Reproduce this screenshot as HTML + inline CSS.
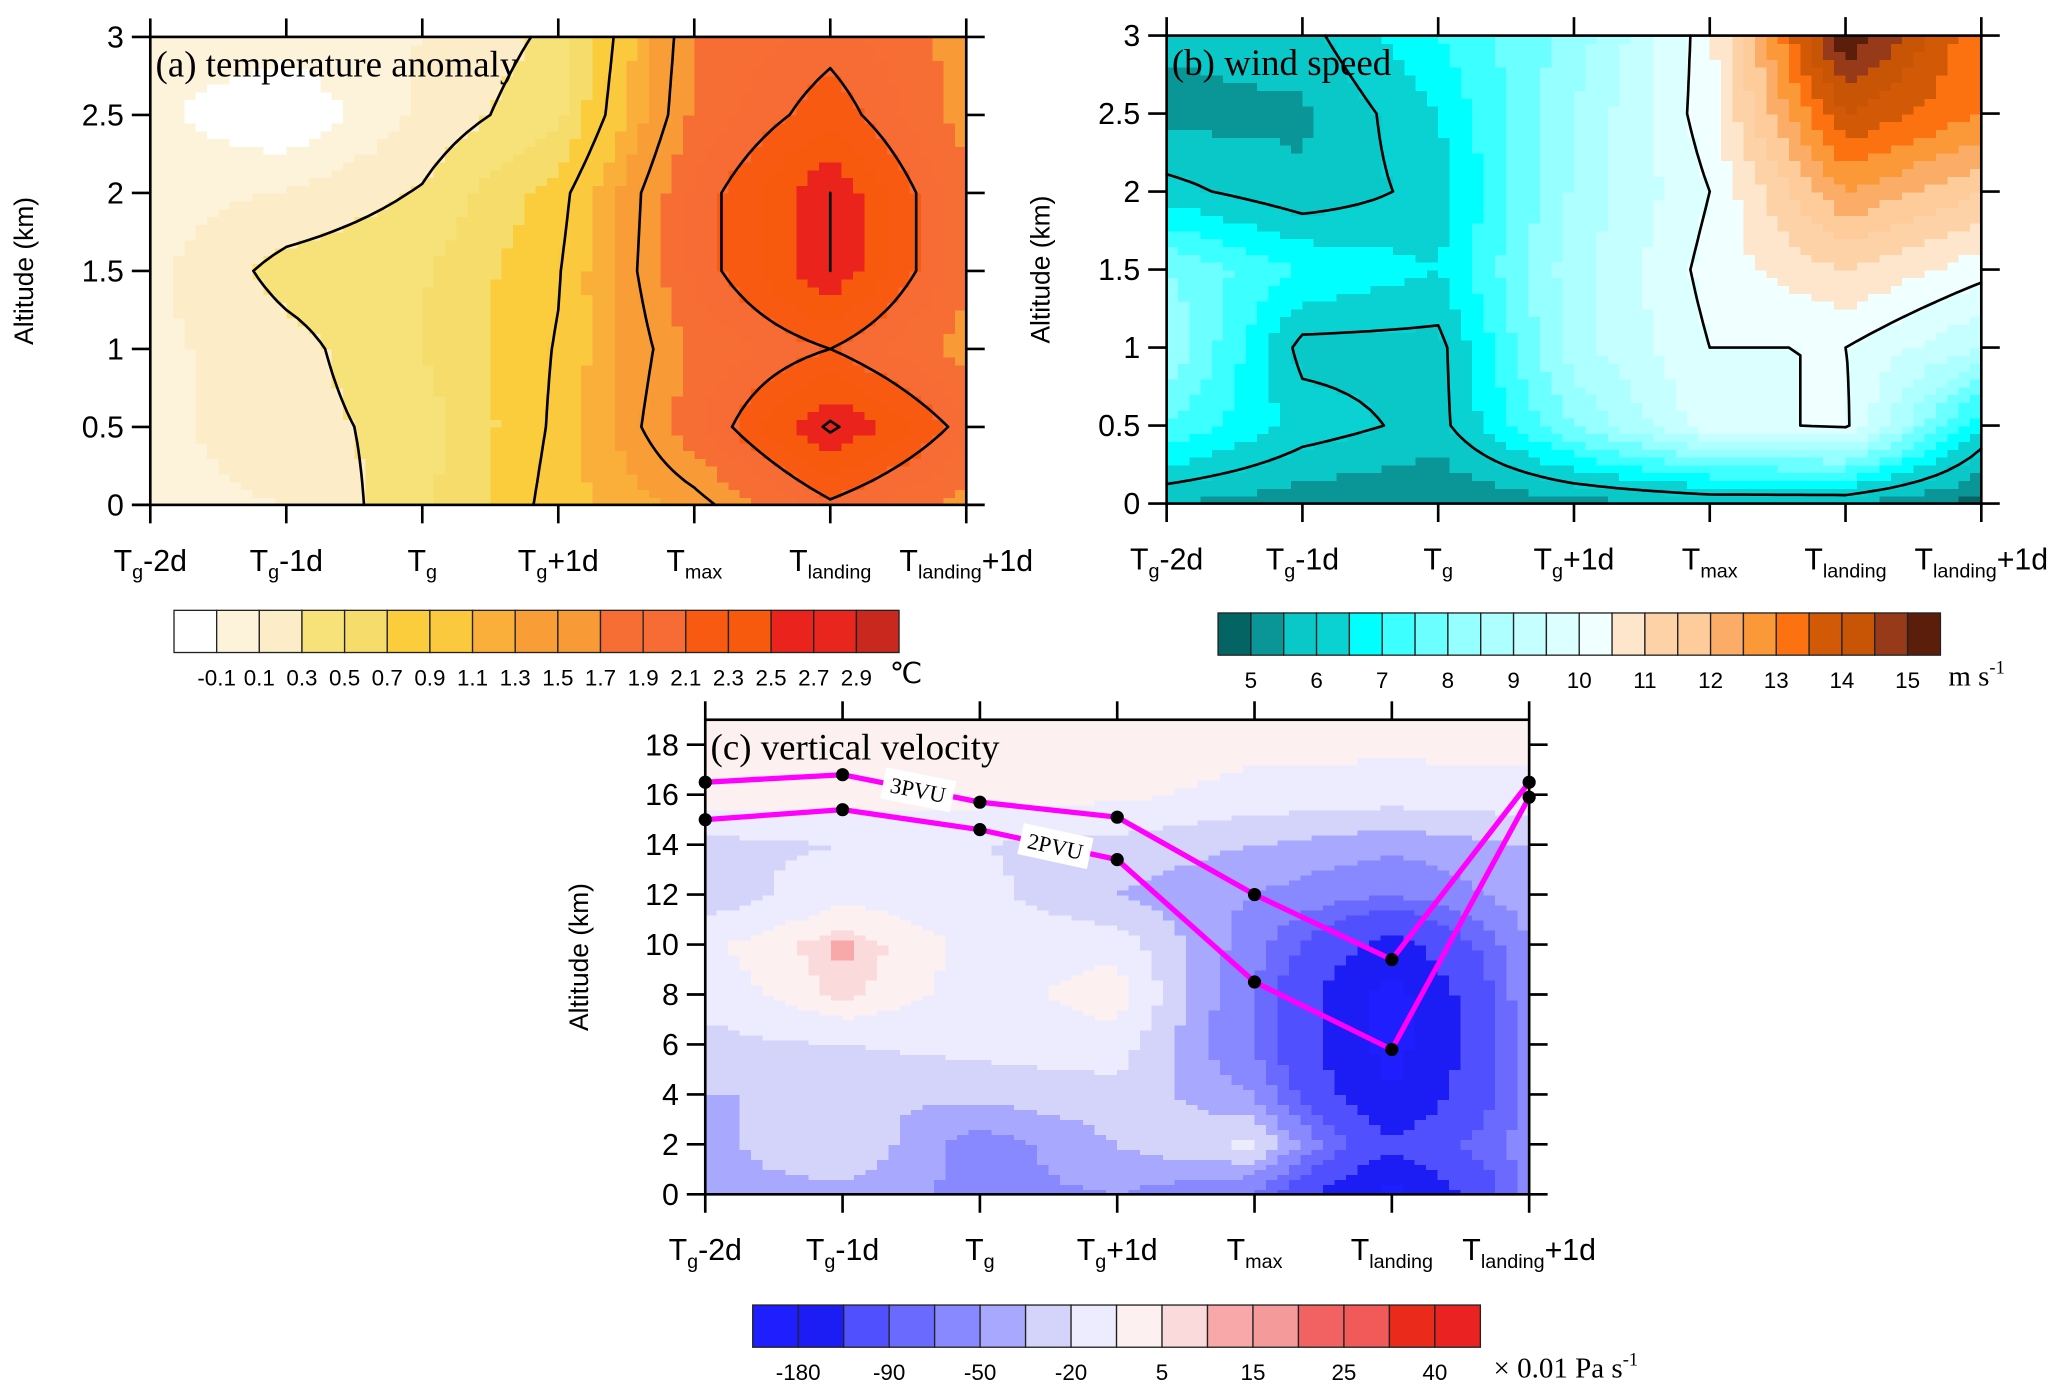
<!DOCTYPE html>
<html><head><meta charset="utf-8"><title>Composite cross sections</title>
<style>
html,body{margin:0;padding:0;background:#fff;}
svg{display:block;}
</style></head>
<body>
<svg id="fig" xmlns="http://www.w3.org/2000/svg" width="2067" height="1396" viewBox="0 0 1568 1059">
<rect x="0" y="0" width="1568" height="1059" fill="#fff"/>
</svg>
<script>
// ---------- data ----------
const xCats = ["Tg-2d","Tg-1d","Tg","Tg+1d","Tmax","Tlanding","Tlanding+1d"];
const xMain = ["T","T","T","T","T","T","T"];
const xSub = ["g","g","g","g","max","landing","landing"];
const xSuffix = ["-2d","-1d","","+1d","","","+1d"];

const altA = [0,0.5,1,1.5,2,2.5,3];
const tempA = [
 [0.05,0.10,0.45,1.00,1.40,2.05,1.60],
 [0.05,0.20,0.40,0.95,1.85,2.75,2.00],
 [0.05,0.22,0.50,0.92,1.75,2.10,1.60],
 [0.05,0.38,0.48,0.88,1.95,2.70,1.75],
 [0.00,0.12,0.32,0.80,1.95,2.70,1.75],
 [-0.05,-0.30,0.15,0.45,1.75,2.25,1.60],
 [0.02,0.00,0.10,0.35,1.70,2.00,1.60]
];
const levelsA = [-0.1,0.1,0.3,0.5,0.7,0.9,1.1,1.3,1.5,1.7,1.9,2.1,2.3,2.5,2.7,2.9];
const colorsA = ["#ffffff","#fdf3da","#fcedc8","#f7e27a","#f6dc6a","#fbcd3c","#fbc93e","#f9af3a","#f99d36","#f89a36","#f76e34","#f76c34","#f75a10","#f75a0c","#ea241c","#e9261e","#c8281e"];
const contA = [0.3,0.9,1.5,2.1,2.7];

const altB = [0,0.5,1,1.5,2,2.5,3];
const windB = [
 [5.5,5.2,5.0,5.3,5.5,5.5,4.8],
 [7.5,6.3,5.8,8.0,9.8,10.1,6.5],
 [8.5,5.8,5.8,8.8,10.0,10.0,9.0],
 [8.0,7.0,6.5,8.8,10.2,11.0,10.2],
 [6.2,5.6,6.2,8.6,10.0,12.5,11.5],
 [5.3,5.4,6.5,8.5,10.3,14.0,13.0],
 [5.6,5.8,7.0,8.2,10.3,15.5,13.0]
];
const levelsB = [5,5.5,6,6.5,7,7.5,8,8.5,9,9.5,10,10.5,11,11.5,12,12.5,13,13.5,14,14.5,15];
const colorsB = ["#046464","#0a9696","#0ac8c8","#0ad2d2","#00ffff","#3cffff","#6cffff","#96ffff","#aeffff","#c6ffff","#dcffff","#f0ffff","#fde6cc","#fdd2a6","#fdcc9a","#fbac66","#fb9838","#fc7210","#d25a06","#c85406","#963a1a","#5a1e0a"];
const contB = [6,10];

const altC = [0,2,4,6,8,10,12,14,16,19];
const omegaC = [
 [-40,-40,-55,-50,-70,-200,-60],
 [-40,-20,-60,-35,-15,-120,-60],
 [-35,-35,-30,-25,-50,-180,-60],
 [-25,-20,-15,-12,-70,-200,-60],
 [-15,8,-12,3,-70,-200,-50],
 [-8,12,-10,-10,-60,-150,-50],
 [-30,-8,-15,-35,-50,-70,-40],
 [-25,-20,-20,-25,-35,-45,-35],
 [2,0,0,-2,-10,-12,-10],
 [3,3,3,3,3,3,3]
];
const levelsC = [-180,-130,-90,-70,-50,-35,-20,-5,5,10,15,20,25,30,40];
const colorsC = ["#1e1eff","#1c1cf4","#5050ff","#6a6aff","#8888ff","#a8a8ff","#d4d4fb","#ececfe","#fdf0f0","#fadada","#f8a8a8","#f59a9a","#f26262","#f25a5a","#ea2a1a","#ea2222"];
const cbLabelsA = ["-0.1","0.1","0.3","0.5","0.7","0.9","1.1","1.3","1.5","1.7","1.9","2.1","2.3","2.5","2.7","2.9"];
const cbLabelsB = ["5","6","7","8","9","10","11","12","13","14","15"];
const cbLabelsC = ["-180","-90","-50","-20","5","15","25","40"];
const pv3 = [16.5,16.8,15.7,15.1,12.0,9.4,16.5];
const pv2 = [15.0,15.4,14.6,13.4,8.5,5.8,15.9];

// ---------- helpers ----------
const NS = "http://www.w3.org/2000/svg";
const svg = document.getElementById("fig");
function el(tag, attrs, parent){
  const e = document.createElementNS(NS, tag);
  for (const k in attrs) e.setAttribute(k, attrs[k]);
  (parent||svg).appendChild(e);
  return e;
}
function colorFor(v, levels, colors){
  let i=0; while(i<levels.length && v>=levels[i]) i++;
  return colors[i];
}

function drawPanel(p){
  const g = el("g",{});
  
  
  const nc = xCats.length, nr = p.alt.length;
  const xs = i => p.x0 + (p.x1-p.x0)*i/(nc-1);
  const ys = a => p.yb - (p.yb-p.yt)*(a-p.ymin)/(p.ymax-p.ymin);
  const NX=12, NY=10;
  const FX = (nc-1)*NX+1, FY=(nr-1)*NY+1;
  const val=[], px=[], py=[];
  for(let j=0;j<FY;j++){
    const r=Math.min(Math.floor(j/NY),nr-2), t=(j-r*NY)/NY;
    py[j]=ys(p.alt[r]+(p.alt[r+1]-p.alt[r])*t);
    val[j]=[];
    for(let i=0;i<FX;i++){
      const c=Math.min(Math.floor(i/NX),nc-2), s=(i-c*NX)/NX;
      if(j===0) px[i]=xs(c+s);
      const v00=p.data[r][c],v10=p.data[r][c+1],v01=p.data[r+1][c],v11=p.data[r+1][c+1];
      val[j][i]=v00*(1-s)*(1-t)+v10*s*(1-t)+v01*(1-s)*t+v11*s*t;
    }
  }
  const fill = el("g",{"shape-rendering":"crispEdges"},g);
  
  
  for(let j=0;j<FY-1;j++){
    for(let i=0;i<FX-1;i++){
      const v=(val[j][i]+val[j][i+1]+val[j+1][i]+val[j+1][i+1])/4;
      const col=colorFor(v,p.levels,p.colors);
      const yTop=Math.min(py[j],py[j+1]), h=Math.abs(py[j]-py[j+1]);
      const r=el("rect",{x:px[i].toFixed(2),y:yTop.toFixed(2),width:(px[i+1]-px[i]+0.6).toFixed(2),height:(h+0.6).toFixed(2),fill:col},fill);
      
      
    }
  }
  if(p.lines){
    const lg = el("g",{stroke:"#000","stroke-width":2,fill:"none","stroke-linecap":"round"},g);
    
    
    let d="";
    for(const L of p.lines){
      for(let j=0;j<FY-1;j++)for(let i=0;i<FX-1;i++){
        const c=[[px[i],py[j],val[j][i]],[px[i+1],py[j],val[j][i+1]],[px[i+1],py[j+1],val[j+1][i+1]],[px[i],py[j+1],val[j+1][i]]];
        const pts=[];
        for(let k=0;k<4;k++){
          const a=c[k],b=c[(k+1)%4];
          if((a[2]<L)!==(b[2]<L)){
            const f=(L-a[2])/(b[2]-a[2]);
            pts.push([a[0]+(b[0]-a[0])*f,a[1]+(b[1]-a[1])*f]);
          }
        }
        for(let k=0;k+1<pts.length;k+=2)
          d+="M"+pts[k][0].toFixed(1)+" "+pts[k][1].toFixed(1)+"L"+pts[k+1][0].toFixed(1)+" "+pts[k+1][1].toFixed(1);
      }
    }
    const path=el("path",{d:d},lg);
    
    
  }
  const fr=el("rect",{x:p.x0,y:p.yt,width:p.x1-p.x0,height:p.yb-p.yt,fill:"none",stroke:"#000","stroke-width":2},g);
  
  
  const ax = el("g",{stroke:"#000","stroke-width":2},g);
  
  
  for(let i=0;i<nc;i++){
    el("line",{x1:xs(i),x2:xs(i),y1:p.yb,y2:p.yb+14},ax);
    el("line",{x1:xs(i),x2:xs(i),y1:p.yt,y2:p.yt-14},ax);
  }
  const tl = el("g",{"font-family":"Liberation Sans, sans-serif","font-size":23,fill:"#000"},g);
  
  
  for(const tv of p.yticks){
    const y=ys(tv);
    el("line",{x1:p.x0-14,x2:p.x0,y1:y,y2:y,stroke:"#000","stroke-width":2},ax);
    el("line",{x1:p.x1,x2:p.x1+14,y1:y,y2:y,stroke:"#000","stroke-width":2},ax);
    const t=el("text",{x:p.x0-20,y:y+8,"text-anchor":"end"},tl);
    t.textContent=String(tv);
    
    
  }
  for(let i=0;i<nc;i++){
    const t=el("text",{x:xs(i),y:p.yb+50,"text-anchor":"middle"},tl);
    
    
    const a=el("tspan",{},t); a.textContent=xMain[i];
    const b=el("tspan",{dy:6,"font-size":15},t); b.textContent=xSub[i];
    if(xSuffix[i]){const c=el("tspan",{dy:-6},t); c.textContent=xSuffix[i];}
  }
  const yt=el("text",{x:0,y:0,"font-family":"Liberation Sans, sans-serif","font-size":20,"text-anchor":"middle",transform:`translate(${p.x0-89},${(p.yt+p.yb)/2}) rotate(-90)`},g);
  yt.textContent="Altitude (km)";
  
  
  const tt=el("text",{x:p.x0+4,y:p.yt+30,"font-family":"Liberation Serif, serif","font-size":28},g);
  tt.textContent=p.title;
  
  
  return {xs,ys,g};
}

function colorbar(c){
  const g=el("g",{});
  
  
  const n=c.colors.length, w=(c.x1-c.x0)/n;
  c.colors.forEach((col,k)=>{
    const r=el("rect",{x:c.x0+k*w,y:c.y0,width:w,height:c.y1-c.y0,fill:col,stroke:"#222","stroke-width":1},g);
    
    
  });
  const tg=el("g",{"font-family":"Liberation Sans, sans-serif","font-size":17,"text-anchor":"middle"},g);
  c.labels.forEach((lab,k)=>{
    const t=el("text",{x:c.x0+(1+k*c.step)*w,y:c.y1+25},tg);
    t.textContent=lab;
    
    
  });
  const u=el("text",{x:c.ux,y:c.y1+23,"font-family":"Liberation Serif, serif","font-size":22},g);
  
  
  const a=el("tspan",{},u); a.textContent=c.unit;
  if(c.sup){const s=el("tspan",{dy:-9,"font-size":14},u); s.textContent=c.sup;}
}

// ---------- panels ----------
drawPanel({name:"panel-a-temperature",x0:114,x1:733,yt:28,yb:383,ymin:0,ymax:3,alt:altA,data:tempA,levels:levelsA,colors:colorsA,lines:contA,yticks:[0,0.5,1,1.5,2,2.5,3],title:"(a) temperature anomaly"});
drawPanel({name:"panel-b-wind",x0:885,x1:1503,yt:27,yb:382,ymin:0,ymax:3,alt:altB,data:windB,levels:levelsB,colors:colorsB,lines:contB,yticks:[0,0.5,1,1.5,2,2.5,3],title:"(b) wind speed"});
const pc=drawPanel({name:"panel-c-vertical-velocity",x0:535,x1:1160,yt:546,yb:906,ymin:0,ymax:19,alt:altC,data:omegaC,levels:levelsC,colors:colorsC,lines:null,yticks:[0,2,4,6,8,10,12,14,16,18],title:"(c) vertical velocity"});

function pvLine(vals,name,labIdx,lab){
  const g=el("g",{},pc.g);
  
  
  const pts=vals.map((v,i)=>pc.xs(i).toFixed(1)+","+pc.ys(v).toFixed(1)).join(" ");
  const pl=el("polyline",{points:pts,fill:"none",stroke:"#ff00ff","stroke-width":4},g);
  
  
  vals.forEach((v,i)=>{
    const c=el("circle",{cx:pc.xs(i),cy:pc.ys(v),r:5,fill:"#000"},g);
    
    
  });
  const xa=pc.xs(labIdx),xb=pc.xs(labIdx+1),ya=pc.ys(vals[labIdx]),yb=pc.ys(vals[labIdx+1]);
  const mx=xa+(xb-xa)*0.55, my=ya+(yb-ya)*0.55, ang=Math.atan2(yb-ya,xb-xa)*180/Math.PI;
  const lg=el("g",{transform:`translate(${mx},${my}) rotate(${ang})`},g);
  
  
  el("rect",{x:-27,y:-12,width:54,height:24,fill:"#fff"},lg);
  const t=el("text",{x:0,y:6,"text-anchor":"middle","font-family":"Liberation Serif, serif","font-size":17},lg);
  t.textContent=lab;
}
pvLine(pv3,"pv-3pvu",1,"3PVU");
pvLine(pv2,"pv-2pvu",2,"2PVU");

colorbar({name:"colorbar-a",x0:132,x1:682,y0:463,y1:495,colors:colorsA,labels:cbLabelsA,step:1,ux:675,unit:"℃"});
colorbar({name:"colorbar-b",x0:924,x1:1472,y0:465,y1:497,colors:colorsB,labels:cbLabelsB,step:2,ux:1478,unit:"m s",sup:"-1"});
colorbar({name:"colorbar-c",x0:571,x1:1123,y0:990,y1:1022,colors:colorsC,labels:cbLabelsC,step:2,ux:1133,unit:"× 0.01 Pa s",sup:"-1"});
</script>
</body></html>
